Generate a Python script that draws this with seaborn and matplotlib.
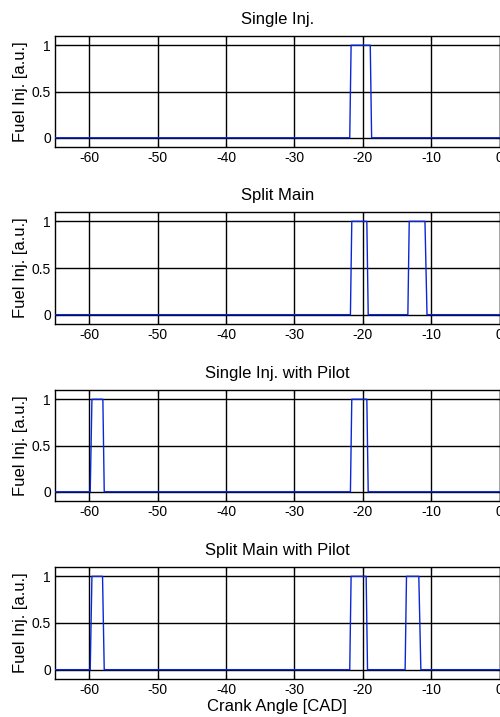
import matplotlib
matplotlib.use("Agg")
import matplotlib.pyplot as plt
import seaborn as sns
import pandas as pd

sns.set_theme(style="white")
plt.rcParams['font.family'] = ['Liberation Sans', 'DejaVu Sans']

# Injection profiles: crank angle [CAD] vs. normalized fuel injection
titles = ["Single Inj.", "Split Main", "Single Inj. with Pilot", "Split Main with Pilot"]

single_x = [-65, -21.9, -21.7, -18.9, -18.7, 0]
single_y = [0, 0, 1, 1, 0, 0]

split_x = [-65, -21.8, -21.6, -19.4, -19.2, -13.4, -13.2, -10.9, -10.6, 0]
split_y = [0, 0, 1, 1, 0, 0, 1, 1, 0, 0]

pilot_x = [-65, -59.85, -59.6, -58.0, -57.8, -21.8, -21.6, -19.4, -19.2, 0]
pilot_y = [0, 0, 1, 1, 0, 0, 1, 1, 0, 0]

split_pilot_x = [-65, -59.85, -59.6, -58.05, -57.8, -21.9, -21.7, -19.5, -19.3,
                 -13.8, -13.6, -11.8, -11.5, 0]
split_pilot_y = [0, 0, 1, 1, 0, 0, 1, 1, 0, 0, 1, 1, 0, 0]

series = [(single_x, single_y), (split_x, split_y), (pilot_x, pilot_y),
          (split_pilot_x, split_pilot_y)]

x_ticks = [-60, -50, -40, -30, -20, -10, 0]
y_ticks = [0, 0.5, 1]
y_ticklabels = ["0", "0.5", "1"]

W, H = 500, 717
fig = plt.figure(figsize=(W / 100, H / 100), dpi=100)
fig.patch.set_facecolor("white")

# panel pixel extents (top, bottom)
panels = [(36, 147), (212, 324), (390, 501), (567, 679)]
left_px, right_px = 55, 499.5

for (top, bot), title, (xs, ys) in zip(panels, titles, series):
    ax = fig.add_axes([left_px / W, 1 - bot / H, (right_px - left_px) / W, (bot - top) / H])
    ax.set_facecolor("white")
    df = pd.DataFrame({"angle": xs, "inj": ys})
    ax.set_axisbelow(True)
    ax.grid(True, color="black", linewidth=1.0, linestyle="-")
    sns.lineplot(data=df, x="angle", y="inj", ax=ax, estimator=None, sort=False,
                 color="#0a26d6", linewidth=1.0, zorder=3)
    ax.set_xlim(-65, 0)
    ax.set_ylim(-0.1, 1.1)
    ax.set_xticks(x_ticks)
    ax.set_xticklabels([str(t) for t in x_ticks])
    ax.set_yticks(y_ticks)
    ax.set_yticklabels(y_ticklabels)
    ax.tick_params(direction="in", length=3, width=0.8, colors="black",
                   labelsize=10, pad=3, top=True, right=True, bottom=True, left=True)
    for s in ax.spines.values():
        s.set_color("black")
        s.set_linewidth(1.0)
        s.set_visible(True)
    ax.set_title(title, fontsize=12, pad=8.5, color="black")
    ax.set_ylabel("Fuel Inj. [a.u.]", fontsize=12, color="black")
    ax.yaxis.set_label_coords(-(left_px - 28) / (right_px - left_px), 0.5)
    ax.set_xlabel("")

fig.text((left_px + right_px) / 2 / W, 1 - 706 / H, "Crank Angle [CAD]", ha="center",
         va="center", fontsize=12, color="black")

fig.savefig("out.png", dpi=100, facecolor="white")
